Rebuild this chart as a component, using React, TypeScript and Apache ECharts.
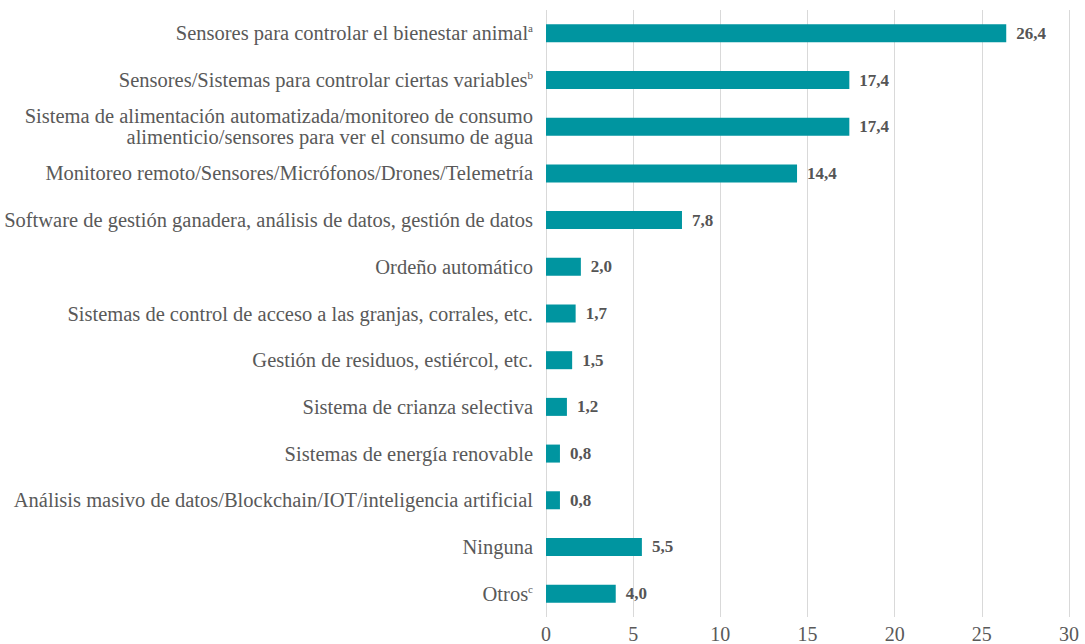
import React, { useEffect, useRef } from "react";
import * as echarts from "echarts";

const categories = [
  "Sensores para controlar el bienestar animal",
  "Sensores/Sistemas para controlar ciertas variables",
  "Sistema de alimentación automatizada/monitoreo de consumo\nalimenticio/sensores para ver el consumo de agua",
  "Monitoreo remoto/Sensores/Micrófonos/Drones/Telemetría",
  "Software de gestión ganadera, análisis de datos, gestión de datos",
  "Ordeño automático",
  "Sistemas de control de acceso a las granjas, corrales, etc.",
  "Gestión de residuos, estiércol, etc.",
  "Sistema de crianza selectiva",
  "Sistemas de energía renovable",
  "Análisis masivo de datos/Blockchain/IOT/inteligencia artificial",
  "Ninguna",
  "Otros",
];
const superscripts = ["a", "b", "", "", "", "", "", "", "", "", "", "", "c"];
const values = [26.4, 17.4, 17.4, 14.4, 7.8, 2.0, 1.7, 1.5, 1.2, 0.8, 0.8, 5.5, 4.0];
const xTicks = [0, 5, 10, 15, 20, 25, 30];

const FONT = "Liberation Serif";

export default function App() {
  const ref = useRef<HTMLDivElement>(null);
  useEffect(() => {
    if (!ref.current) return;
    const chart = echarts.init(ref.current, null, { renderer: "svg" });
    const cats = categories.slice().reverse();
    const sups = superscripts.slice().reverse();
    const vals = values.slice().reverse();
    chart.setOption({
      animation: false,
      textStyle: { fontFamily: FONT },
      grid: { left: 546, right: 16, top: 10, bottom: 27, containLabel: false },
      xAxis: {
        type: "value",
        min: xTicks[0],
        max: xTicks[xTicks.length - 1],
        interval: 5,
        axisLine: { show: false },
        axisTick: { show: false },
        splitLine: { show: true, lineStyle: { color: "#d9d9d9", width: 1 } },
        axisLabel: {
          color: "#595959",
          fontFamily: FONT,
          fontSize: 20,
          margin: 7,
        },
      },
      yAxis: {
        type: "category",
        data: cats,
        axisLine: { show: false },
        axisTick: { show: false },
        axisLabel: {
          margin: 13,
          formatter: (v: string, i: number) => {
            const s = sups[i];
            return s ? `{t|${v}}{s|${s}}` : `{t|${v}}`;
          },
          rich: {
            t: { color: "#595959", fontFamily: FONT, fontSize: 20.5, lineHeight: 21 },
            s: { color: "#595959", fontFamily: FONT, fontSize: 11, verticalAlign: "top", padding: [0, 0, 8, 0] },
          },
          color: "#595959",
          fontFamily: FONT,
          fontSize: 20.5,
          lineHeight: 21,
        },
      },
      series: [
        {
          type: "bar",
          data: vals,
          barWidth: 18,
          itemStyle: { color: "#0095A0" },
          label: {
            show: true,
            position: "right",
            distance: 10,
            formatter: (p: any) => p.value.toFixed(1).replace(".", ","),
            color: "#555555",
            fontFamily: FONT,
            fontWeight: "bold",
            fontSize: 17,
          },
        },
      ],
    });
    return () => chart.dispose();
  }, []);
  return (
    <div
      ref={ref}
      style={{ position: "absolute", left: 0, top: 0, width: 1085, height: 644, background: "#fff" }}
    />
  );
}
